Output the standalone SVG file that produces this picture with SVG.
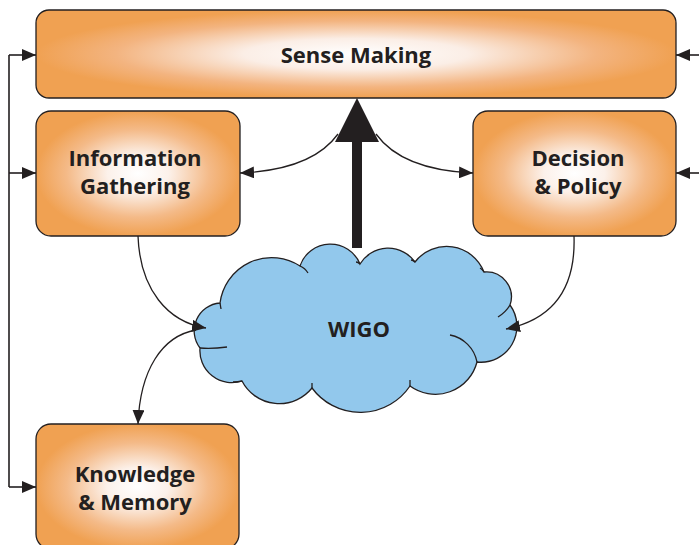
<svg xmlns="http://www.w3.org/2000/svg" width="699" height="545" viewBox="0 0 699 545">
<defs>
<radialGradient id="boxg" cx="0.5" cy="0.5" r="0.5">
<stop offset="0" stop-color="#FFFFFF"/>
<stop offset="0.3" stop-color="#FCF1EA"/>
<stop offset="0.7" stop-color="#F4BA88"/>
<stop offset="1" stop-color="#F0A152"/>
</radialGradient>
<radialGradient id="wideg" cx="0.5" cy="0.5" r="0.5">
<stop offset="0" stop-color="#FFFFFF"/>
<stop offset="0.35" stop-color="#FBEEE6"/>
<stop offset="0.75" stop-color="#F3B480"/>
<stop offset="1" stop-color="#F0A152"/>
</radialGradient>
<marker id="arr" markerUnits="userSpaceOnUse" markerWidth="14" markerHeight="12" refX="14" refY="6" orient="auto" viewBox="0 0 14 12">
<path d="M0,0 L14,6 L0,12 Z" fill="#231F20"/>
</marker>
</defs>
<style>
.box{stroke:#231F20;stroke-width:1.3}
.lbl{font-family:"Open Sans","Liberation Sans",sans-serif;font-weight:bold;font-size:22px;fill:#231F20;text-anchor:middle}
.con{fill:none;stroke:#231F20;stroke-width:1.3}
.fb{fill:none;stroke:#231F20;stroke-width:1.6}
.cl{fill:none;stroke:#231F20;stroke-width:1.3}
</style>
<g id="sense-making">
<rect class="box" x="36" y="10" width="640" height="88" rx="13" fill="url(#wideg)"/>
<text class="lbl" x="356" y="63">Sense Making</text>
</g>
<g id="information-gathering">
<rect class="box" x="36" y="111" width="204" height="125" rx="15" fill="url(#boxg)"/>
<text class="lbl" x="135" y="166">Information</text>
<text class="lbl" x="135" y="194">Gathering</text>
</g>
<g id="decision-policy">
<rect class="box" x="473" y="111" width="203" height="125" rx="15" fill="url(#boxg)"/>
<text class="lbl" x="578" y="166">Decision</text>
<text class="lbl" x="578" y="194">&amp; Policy</text>
</g>
<g id="knowledge-memory">
<rect class="box" x="36" y="424" width="203" height="125" rx="15" fill="url(#boxg)"/>
<text class="lbl" x="135" y="482">Knowledge</text>
<text class="lbl" x="135" y="510">&amp; Memory</text>
</g>
<g id="wigo">
<path d="M220 303 A52 52 0 0 1 300 266 A32 32 0 0 1 360 264 A33 33 0 0 1 415 262 A40 40 0 0 1 484 272 A25 25 0 0 1 510 305 A36 36 0 0 1 477 362 A43 43 0 0 1 410 386 A60 60 0 0 1 312 388 A42 42 0 0 1 242 381 A32 32 0 0 1 200 348 A28 28 0 0 1 220 303 Z" fill="#92C8EC" stroke="#231F20" stroke-width="1.3"/>
<path class="cl" d="M300 266 Q305 268 308 273"/>
<path class="cl" d="M360 264 Q358 262 356 262"/>
<path class="cl" d="M415 262 Q413 260 411 260"/>
<path class="cl" d="M484 272 Q482 269 480 268"/>
<path class="cl" d="M510 305 Q506 312 498 317"/>
<path class="cl" d="M450 335 A34 34 0 0 1 477 362"/>
<path class="cl" d="M410 380 L410 386"/>
<path class="cl" d="M312 383 L312 388"/>
<path class="cl" d="M242 381 Q238 382 233 382"/>
<path class="cl" d="M200 348 Q212 349 227 347"/>
<path class="cl" d="M220 303 L221 309"/>
<text class="lbl" x="359" y="337">WIGO</text>
</g>
<g id="connectors">
<path class="fb" d="M9 55 L9 487"/>
<path class="fb" d="M9 55 L36 55" marker-end="url(#arr)"/>
<path class="fb" d="M9 173 L36 173" marker-end="url(#arr)"/>
<path class="fb" d="M9 487 L36 487" marker-end="url(#arr)"/>
<path class="fb" d="M699 55 L676 55" marker-end="url(#arr)"/>
<path class="fb" d="M699 173 L676 173" marker-end="url(#arr)"/>
<rect x="352" y="140" width="10" height="108" fill="#231F20"/>
<path d="M357 98 L335 142 L379 142 Z" fill="#231F20"/>
<path class="con" d="M338 134 Q312 170 240 173" marker-end="url(#arr)"/>
<path class="con" d="M376 134 Q402 170 473 173" marker-end="url(#arr)"/>
<path class="con" d="M138 236 C140 290 168 322 206 328" marker-end="url(#arr)"/>
<path class="con" d="M196 330 C162 336 140 370 138 424" marker-end="url(#arr)"/>
<path class="con" d="M574 236 C576 292 550 320 506 329" marker-end="url(#arr)"/>
</g>
</svg>
